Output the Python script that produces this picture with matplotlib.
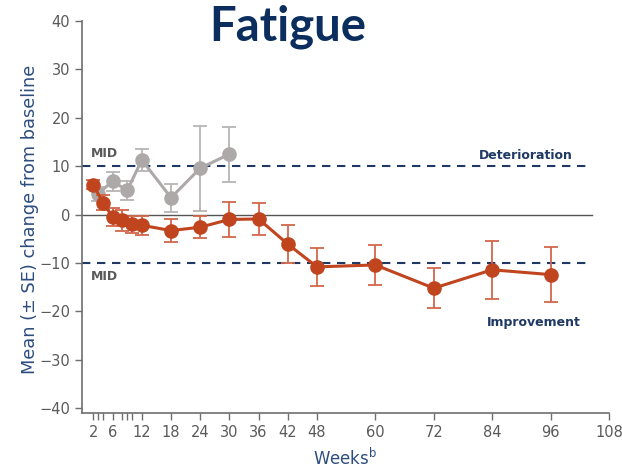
import matplotlib
matplotlib.use('Agg')
import matplotlib.pyplot as plt

# weeks and mean (+/- SE) change from baseline
weeks_trat = [2, 4, 6, 8, 10, 12, 18, 24, 30, 36, 42, 48, 60, 72, 84, 96]
media_trat = [6.2, 2.5, -0.5, -1.2, -2.0, -2.2, -3.3, -2.6, -1.0, -0.9, -6.1, -10.8, -10.4, -15.2, -11.4, -12.4]
se_trat = [1.0, 1.5, 1.8, 2.2, 1.8, 2.0, 2.3, 2.3, 3.6, 3.4, 3.9, 3.9, 4.1, 4.2, 6.0, 5.7]

weeks_ctrl = [3, 6, 9, 12, 18, 24, 30]
media_ctrl = [4.3, 6.9, 5.0, 11.3, 3.5, 9.6, 12.5]
se_ctrl = [1.5, 2.0, 2.0, 2.3, 2.9, 8.8, 5.7]

xticks_lab = [2, 6, 12, 18, 24, 30, 36, 42, 48, 60, 72, 84, 96, 108]
xticks_menor = [3, 4, 8, 9, 10]
yticks = [-40, -30, -20, -10, 0, 10, 20, 30, 40]

azul = '#1F3864'
laranja = '#C0451F'
cinza = '#ADA9A9'
cinza_txt = '#5A5A5A'

fig = plt.figure(figsize=(6.22, 4.68), dpi=100)
ax = fig.add_axes([0.1318, 0.1175, 0.979 - 0.1318, 0.955 - 0.1175])

#linhas de referencia
ax.axhline(0, xmin=0, xmax=(104.5 + 0.3) / 108.3, color='#555555', lw=1.0, zorder=1)
for yv in (10, -10):
    ax.plot([-0.3, 103.5], [yv, yv], ls=(0, (4, 3.2)), color=azul, lw=1.5, zorder=1)

#serie cinza
ax.errorbar(weeks_ctrl, media_ctrl, yerr=se_ctrl, color=cinza, ecolor='#B8B4B4',
            elinewidth=1.3, capsize=5, capthick=1.3, lw=2.2, marker='o', ms=9.5, zorder=2)
#serie laranja
ax.errorbar(weeks_trat, media_trat, yerr=se_trat, color=laranja, ecolor='#D2674A',
            elinewidth=1.3, capsize=5, capthick=1.3, lw=2.2, marker='o', ms=9.5, zorder=3)

ax.set_xlim(-0.3, 108)
ax.set_ylim(-41, 40)
ax.spines['top'].set_visible(False)
ax.spines['right'].set_visible(False)
for s in ('left', 'bottom'):
    ax.spines[s].set_color('#6E6E6E')
    ax.spines[s].set_linewidth(1.2)
ax.spines['left'].set_bounds(-41, 40)

ax.set_xticks(xticks_lab)
ax.set_xticks(xticks_menor, minor=True)
ax.set_yticks(yticks)
ax.tick_params(axis='both', colors='#6E6E6E', labelcolor=cinza_txt, labelsize=10.5,
               length=5, width=1.0, direction='out')
ax.tick_params(axis='x', which='minor', colors='#6E6E6E', length=5, width=1.0)
ax.set_yticklabels([f'\u2212{abs(v)}' if v < 0 else str(v) for v in yticks])

ax.text(1.5, 11.2, 'MID', color=cinza_txt, fontsize=9, fontweight='bold', ha='left', va='bottom')
ax.text(1.5, -11.5, 'MID', color=cinza_txt, fontsize=9, fontweight='bold', ha='left', va='top')
ax.text(91, 10.8, 'Deterioration', color=azul, fontsize=9, fontweight='bold', ha='center', va='bottom')
ax.text(92.5, -22.3, 'Improvement', color=azul, fontsize=9, fontweight='bold', ha='center', va='center')

fig.text(0.048, 0.532, 'Mean (\u00b1 SE) change from baseline', rotation=90, color='#2E4D80',
         fontsize=12.8, ha='center', va='center')
fig.text(0.555, 0.021, 'Weeks$^{\\mathregular{b}}$', color='#2E4D80', fontsize=12, ha='center', va='center')
fig.text(0.462, 0.9145, 'Fatigue', color='#0B2E5E', fontsize=34, fontweight='bold',
         family='Lato', ha='center', va='baseline')

plt.savefig('out.png', dpi=100)
plt.close()
